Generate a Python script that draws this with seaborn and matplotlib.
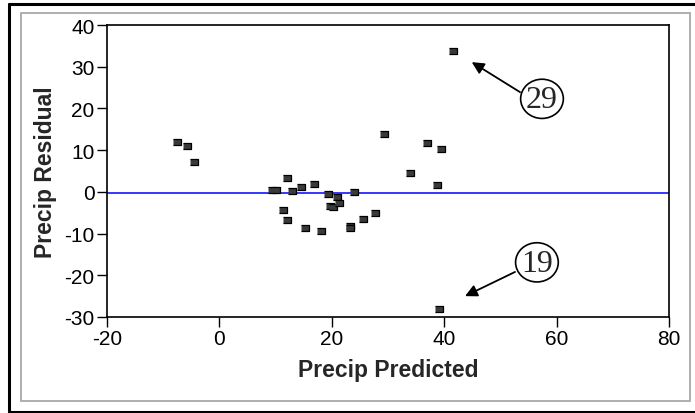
import matplotlib
matplotlib.use("Agg")
import matplotlib.pyplot as plt
import seaborn as sns
import pandas as pd
from matplotlib.patches import Ellipse, Rectangle
from matplotlib.lines import Line2D

# values
predicted = [-7.5, -5.8, -4.6, 9.3, 10.1, 12.0, 11.4, 12.0, 13.0, 14.6,
             15.2, 16.8, 18.1, 19.4, 19.7, 20.3, 21.0, 21.3, 23.2, 23.2,
             24.0, 25.6, 27.7, 29.3, 33.9, 36.9, 38.7, 39.5, 39.1, 41.6]
residual = [12.0, 11.1, 7.2, 0.5, 0.5, 3.3, -4.35, -6.8, 0.2, 1.2,
            -8.6, 1.95, -9.3, -0.5, -3.3, -3.7, -1.2, -2.6, -8.2, -8.6,
            -0.1, -6.5, -5.1, 13.9, 4.45, 11.7, 1.6, 10.3, -28.1, 33.8]
mean_line = -0.35

x_ticks = [-20, 0, 20, 40, 60, 80]
y_ticks = [-30, -20, -10, 0, 10, 20, 30, 40]

# labelled outliers: (label, circle centre, arrow tail, arrow tip)
callouts = [
    ("29", (57.4, 22.3), (53.5, 23.9), (44.9, 31.1)),
    ("19", (56.5, -16.9), (52.6, -19.2), (43.7, -25.0)),
]

df = pd.DataFrame({"Precip Predicted": predicted, "Precip Residual": residual})

sns.set_style("ticks")
plt.rcParams["font.family"] = ["Liberation Sans", "DejaVu Sans"]
plt.rcParams["axes.unicode_minus"] = False

fig = plt.figure(figsize=(6.95, 4.14), dpi=100)
ax = fig.add_axes([107 / 695, 1 - 318 / 414, (669 - 107) / 695, (318 - 26) / 414])

rect_marker = [(-1, -0.8), (1, -0.8), (1, 0.8), (-1, 0.8)]
sns.scatterplot(data=df, x="Precip Predicted", y="Precip Residual", ax=ax,
                marker=rect_marker, s=32, color="#3a3a3a",
                edgecolor="black", linewidth=0.9, zorder=3)
ax.axhline(mean_line, color="#0000ff", lw=1.1, zorder=2)

ax.set_xlim(-20, 80)
ax.set_ylim(-30, 40)
ax.set_xticks(x_ticks)
ax.set_yticks(y_ticks)
ax.tick_params(direction="out", length=7, width=1, labelsize=15, colors="black", pad=2)
for s in ax.spines.values():
    s.set_visible(True)
    s.set_linewidth(1.2)
    s.set_color("black")
ax.set_xlabel("Precip Predicted", fontsize=16.5, fontweight="bold", labelpad=7)
ax.set_ylabel("Precip Residual", fontsize=16.5, fontweight="bold", labelpad=5)

for label, centre, tail, tip in callouts:
    ax.add_patch(Ellipse(centre, width=7.6, height=9.4, fill=False,
                         edgecolor="black", lw=1.2, zorder=4, clip_on=False))
    ax.text(centre[0], centre[1] - 0.2, label, ha="center", va="center",
            fontsize=23, family=["Liberation Serif", "DejaVu Serif"], zorder=5)
    ax.annotate("", xy=tip, xytext=tail,
                arrowprops=dict(arrowstyle="-|>", color="black", lw=1.3,
                                mutation_scale=18, shrinkA=0, shrinkB=0))

# framing: gray inner panel and black outer border
fig.add_artist(Rectangle((21 / 695, 1 - 402 / 414), (690 - 21) / 695, (402 - 14) / 414,
                         transform=fig.transFigure, fill=False,
                         edgecolor="#a8a8a8", lw=1.3))
for xs, ys in [([8.5 / 695, 8.5 / 695], [1 - 4.5 / 414, 1 - 412.5 / 414]),
               ([8.5 / 695, 1.01], [1 - 4.5 / 414, 1 - 4.5 / 414]),
               ([8.5 / 695, 1.01], [1 - 412.5 / 414, 1 - 412.5 / 414])]:
    fig.add_artist(Line2D(xs, ys, transform=fig.transFigure, color="black", lw=2.2))

fig.savefig("out.png", dpi=100)
